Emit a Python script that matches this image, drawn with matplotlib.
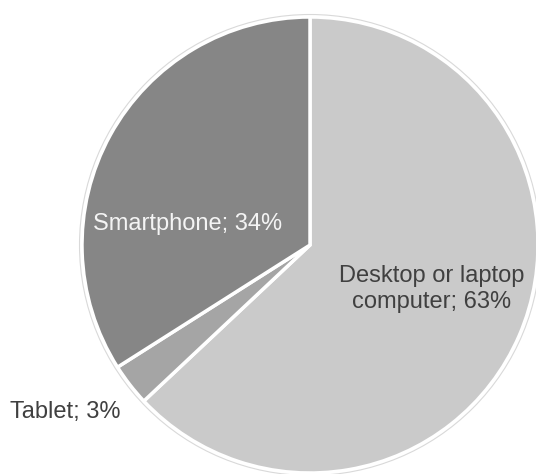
import matplotlib
matplotlib.use("Agg")
import matplotlib.pyplot as plt
from matplotlib.patches import Circle

labels = ["Desktop or laptop\ncomputer; 63%", "Tablet; 3%", "Smartphone; 34%"]
shares = [63, 3, 34]
colors = ["#cacaca", "#a5a5a5", "#868686"]
label_colors = ["#404040", "#404040", "#f4f4f4"]

W, H = 536, 474
fig = plt.figure(figsize=(W / 100, H / 100), dpi=100)
ax = fig.add_axes([0, 0, 1, 1])

cx, cy, r = 310, H - 245, 228

wedges, _ = ax.pie(
    shares,
    colors=colors,
    startangle=90,
    counterclock=False,
    center=(cx, cy),
    radius=r,
    wedgeprops=dict(edgecolor="white", linewidth=2.5),
)

# thin outline around the pie
ax.add_patch(Circle((cx, cy), r + 2.5, fill=False, edgecolor="#d9d9d9", linewidth=0.8))

font = ["Liberation Sans", "DejaVu Sans"]
label_pos = [(432, H - 289), (65, H - 412), (188, H - 224)]
for text, (x, y), c in zip(labels, label_pos, label_colors):
    ax.text(x, y, text, ha="center", va="center", color=c,
            fontsize=17, family=font, linespacing=1.22)

ax.set_xlim(0, W)
ax.set_ylim(0, H)
ax.set_aspect("equal")
ax.axis("off")

fig.savefig("out.png", dpi=100, facecolor="white")
